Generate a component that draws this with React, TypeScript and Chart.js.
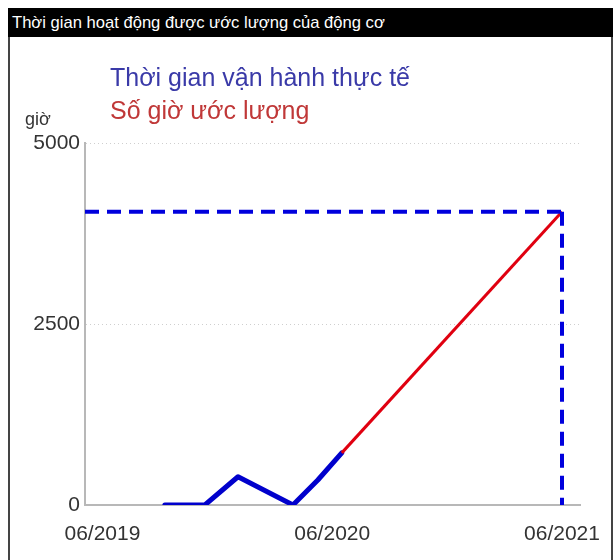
import React, { useEffect, useRef } from "react";
import { Chart, registerables } from "chart.js";

Chart.register(...registerables);

// ---- data ----
const titleText = "Thời gian hoạt động được ước lượng của động cơ";
const actualLabel = "Thời gian vận hành thực tế";
const estimateLabel = "Số giờ ước lượng";
const yUnit = "giờ";

// months counted from 06/2019
const actualMonths = [3.26, 5.35, 7.08, 9.95, 11.25, 12.5];
const actualHours = [0, 0, 390, 0, 345, 720];

const estimateMonths = [12.5, 24];
const estimateHours = [720, 4050];

const targetMonth = 24;
const targetHours = 4050;

const xTickValues = [0, 12, 24];
const xTickLabels = ["06/2019", "06/2020", "06/2021"];
const yTickValues = [0, 2500, 5000];

const X_MIN = -0.91;
const X_MAX = 24.94;

export default function App() {
  const canvasRef = useRef<HTMLCanvasElement | null>(null);

  useEffect(() => {
    document.documentElement.style.overflow = "hidden";
    document.body.style.overflow = "hidden";
    const canvas = canvasRef.current;
    if (!canvas) return;
    const font = { family: "'Liberation Sans', Arial, sans-serif", size: 21 };
    const chart = new Chart(canvas, {
      type: "line",
      data: {
        datasets: [
          {
            label: "dash-h",
            data: [
              { x: X_MIN, y: targetHours },
              { x: targetMonth, y: targetHours },
            ],
            borderColor: "#0000dd",
            borderWidth: 4,
            borderDash: [14, 8],
            pointRadius: 0,
            fill: false,
          },
          {
            label: "dash-v",
            data: [
              { x: targetMonth, y: targetHours },
              { x: targetMonth, y: 0 },
            ],
            borderColor: "#0000dd",
            borderWidth: 4,
            borderDash: [14, 8],
            pointRadius: 0,
            fill: false,
          },
          {
            label: estimateLabel,
            data: estimateMonths.map((m, i) => ({ x: m, y: estimateHours[i] })),
            borderColor: "#e00010",
            borderWidth: 3,
            pointRadius: 0,
            fill: false,
          },
          {
            label: actualLabel,
            data: actualMonths.map((m, i) => ({ x: m, y: actualHours[i] })),
            borderColor: "#0000cc",
            borderWidth: 5,
            pointRadius: 0,
            fill: false,
            borderJoinStyle: "round",
            borderCapStyle: "round",
          },
        ],
      },
      options: {
        animation: false,
        responsive: false,
        maintainAspectRatio: false,
        layout: { padding: { top: 106, right: 31, left: 0, bottom: 0 } },
        plugins: {
          legend: { display: false },
          tooltip: { enabled: false },
          title: { display: false },
        },
        scales: {
          x: {
            type: "linear",
            min: X_MIN,
            max: X_MAX,
            afterFit: (s: any) => {
              s.height = 55;
              s.paddingLeft = 0;
              s.paddingRight = 0;
            },
            afterBuildTicks: (s: any) => {
              s.ticks = xTickValues.map((v) => ({ value: v }));
            },
            ticks: {
              font,
              color: "#333",
              padding: 17,
              maxRotation: 0,
              autoSkip: false,
              callback: (v: any) => {
                const i = xTickValues.indexOf(Number(v));
                return i >= 0 ? xTickLabels[i] : "";
              },
            },
            grid: { display: false, drawTicks: false },
            border: { display: true, color: "#b8b8b8", width: 2 },
          },
          y: {
            type: "linear",
            min: 0,
            max: 5000,
            afterFit: (s: any) => {
              s.width = 75;
              s.paddingTop = 0;
              s.paddingBottom = 0;
            },
            afterBuildTicks: (s: any) => {
              s.ticks = yTickValues.map((v) => ({ value: v }));
            },
            ticks: {
              font,
              color: "#333",
              padding: 5,
              callback: (v: any) => String(v),
            },
            grid: { display: true, drawTicks: false, color: "#cfcfcf", lineWidth: 1 },
            border: { display: true, color: "#b8b8b8", width: 2, dash: [1, 3] },
          },
        },
      },
    });
    return () => chart.destroy();
  }, []);

  return (
    <div
      style={{
        position: "fixed",
        left: 8,
        top: 8,
        width: 605,
        minWidth: 605,
        height: 552,
        fontFamily: "'Liberation Sans', Arial, sans-serif",
      }}
    >
      <div
        style={{
          position: "absolute",
          left: 0,
          top: 0,
          width: 605,
          height: 29,
          background: "#000",
          color: "#fff",
          fontSize: 16.6,
          lineHeight: "29px",
          paddingLeft: 4,
          boxSizing: "border-box",
          whiteSpace: "nowrap",
        }}
      >
        {titleText}
      </div>
      <div
        style={{
          position: "absolute",
          left: 0,
          top: 29,
          width: 605,
          height: 523,
          borderLeft: "2px solid #444",
          borderRight: "2px solid #444",
          boxSizing: "border-box",
          background: "#fff",
        }}
      >
        <canvas
          ref={canvasRef}
          width={601}
          height={523}
          style={{ position: "absolute", left: 0, top: 0, width: 601, height: 523 }}
        />
        <div
          style={{
            position: "absolute",
            left: 100,
            top: 24,
            fontSize: 25,
            color: "#3a3aa8",
            whiteSpace: "nowrap",
            lineHeight: "33px",
          }}
        >
          <div>{actualLabel}</div>
          <div style={{ color: "#c03838" }}>{estimateLabel}</div>
        </div>
        <div
          style={{
            position: "absolute",
            left: 15,
            top: 72,
            fontSize: 18,
            color: "#333",
            whiteSpace: "nowrap",
          }}
        >
          {yUnit}
        </div>
      </div>
    </div>
  );
}
